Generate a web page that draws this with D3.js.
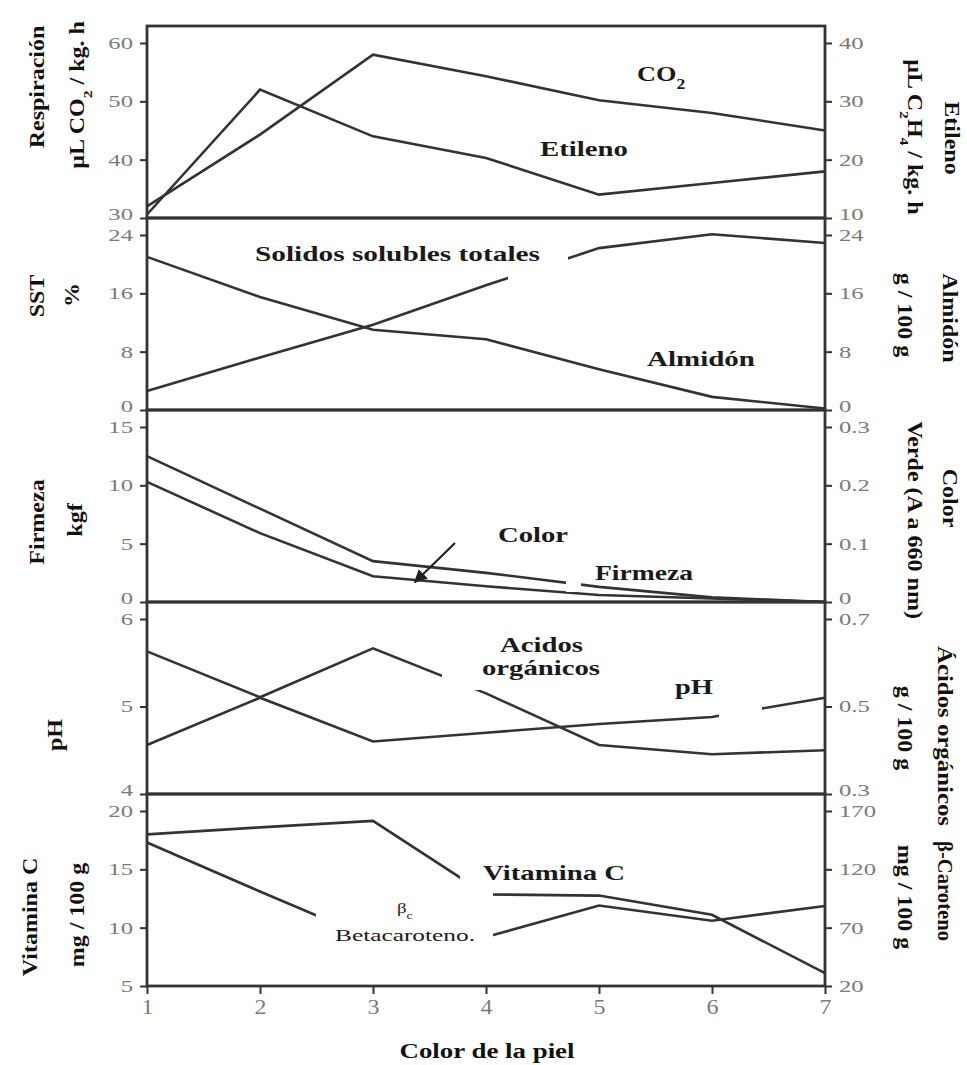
<!DOCTYPE html>
<html>
<head>
<meta charset="utf-8">
<script src="https://cdn.jsdelivr.net/npm/d3@7"></script>
<style>
body { margin: 0; background: #fff; }
text { font-family: "Liberation Serif", "Times New Roman", serif; }
.tick text { fill: #7a7a7a; font-size: 17px; }
.tick line { stroke: #333; stroke-width: 2; }
.title { font-weight: bold; font-size: 20px; fill: #111; }
.note { font-weight: bold; font-size: 21px; fill: #1a1a1a; }
</style>
</head>
<body>
<div id="chart"></div>
<script>
// skin colour stage (x axis)
var stages = [1, 2, 3, 4, 5, 6, 7];

// panel 1: respiration (left) and ethylene (right)
var co2     = [32, 44.3, 58, 54.3, 50.2, 48, 45];
var etileno = [10.6, 32, 24, 20.3, 14, 16, 18];
// panel 2: soluble solids (left) and starch (right)
var sst      = [2.6, 7.2, 11.7, 17.1, 22.2, 24.1, 22.9];
var almidon  = [21, 15.5, 11.0, 9.7, 5.6, 1.8, 0.2];
// panel 3: firmness (left) and green colour (right)
var firmeza = [12.5, 8.0, 3.5, 2.5, 1.3, 0.4, 0];
var color   = [0.206, 0.118, 0.044, 0.027, 0.012, 0.006, 0];
// panel 4: pH (left) and organic acids (right)
var ph      = [4.56, 5.1, 4.6, 4.7, 4.8, 4.88, 5.1];
var acidos  = [0.626, 0.521, 0.633, 0.53, 0.412, 0.391, 0.40];
// panel 5: vitamin C (left) and beta-carotene (right)
var vitC    = [18.0, 18.6, 19.15, 12.85, 12.75, 11.1, 6.1];
var betaCar = [143, 101, 60, 62, 89, 76, 88.6];

// axis domains and ticks
var leftDomains  = [[30, 60], [0, 24], [0, 15], [4, 6], [5, 20]];
var leftTicks    = [[30, 40, 50, 60], [0, 8, 16, 24], [0, 5, 10, 15], [4, 5, 6], [5, 10, 15, 20]];
var rightDomains = [[10, 40], [0, 24], [0, 0.3], [0.3, 0.7], [20, 170]];
var rightTicks   = [[10, 20, 30, 40], [0, 8, 16, 24], [0, 0.1, 0.2, 0.3], [0.3, 0.5, 0.7], [20, 70, 120, 170]];
var leftSeries  = [co2, sst, firmeza, ph, vitC];
var rightSeries = [etileno, almidon, color, acidos, betaCar];

var W = 967, H = 1065;
var left = 147, right = 825, top0 = 26, panelH = 192, pad = 17;

var svg = d3.select("#chart").append("svg")
  .attr("width", W)
  .attr("height", H)
  .style("background", "#fff");

// the scanned figure has wide letters, stretch text a little
function stretch(sel, k) {
  sel.each(function () {
    var len = this.getComputedTextLength();
    d3.select(this).attr("textLength", len * k).attr("lengthAdjust", "spacingAndGlyphs");
  });
}

// lift the lowest tick label of a panel so it clears the next panel's top label
function liftBottom(g, dom) {
  g.selectAll(".tick text")
    .filter(function (d) { return d === dom[0]; })
    .attr("dy", "0.1em");
}

var x = d3.scaleLinear().domain([1, 7]).range([left, right]);

var line = d3.line()
  .x(function (d, i) { return x(stages[i]); })
  .y(function (d) { return d; });

var scalesL = [], scalesR = [];

leftDomains.forEach(function (dom, i) {
  var top = top0 + i * panelH, bottom = top + panelH;
  var yL = d3.scaleLinear().domain(dom).range([bottom, top + pad]);
  var yR = d3.scaleLinear().domain(rightDomains[i]).range([bottom, top + pad]);
  scalesL.push(yL); scalesR.push(yR);

  var gL = svg.append("g")
    .attr("transform", "translate(" + left + ",0)")
    .call(d3.axisLeft(yL).tickValues(leftTicks[i]).tickSize(7).tickPadding(7)
      .tickFormat(function (d) { return String(d); }));
  gL.select(".domain").remove();
  stretch(gL.selectAll(".tick text"), 1.45);
  if (i < 4) liftBottom(gL, dom);

  var gR = svg.append("g")
    .attr("transform", "translate(" + right + ",0)")
    .call(d3.axisRight(yR).tickValues(rightTicks[i]).tickSize(7).tickPadding(7)
      .tickFormat(function (d) { return String(d); }));
  gR.select(".domain").remove();
  stretch(gR.selectAll(".tick text"), 1.45);
  if (i < 4) liftBottom(gR, rightDomains[i]);

  svg.append("path")
    .attr("fill", "none")
    .attr("stroke", "#333")
    .attr("stroke-width", 2.6)
    .attr("d", line(leftSeries[i].map(function (v) { return yL(v); })));

  svg.append("path")
    .attr("fill", "none")
    .attr("stroke", "#333")
    .attr("stroke-width", 2.6)
    .attr("d", line(rightSeries[i].map(function (v) { return yR(v); })));
});

// white patches where the original labels cut the lines
var masks = [[508, 250, 568, 284], [566, 578, 581, 592], [442, 660, 482, 690],
             [719, 700, 762, 720], [460, 868, 493, 899], [316, 900, 493, 948]];
svg.selectAll(".mask")
  .data(masks)
  .enter().append("rect")
  .attr("class", "mask")
  .attr("x", function (d) { return d[0]; })
  .attr("y", function (d) { return d[1]; })
  .attr("width", function (d) { return d[2] - d[0]; })
  .attr("height", function (d) { return d[3] - d[1]; })
  .attr("fill", "#fff");

// panel frames
leftDomains.forEach(function (dom, i) {
  var top = top0 + i * panelH;
  svg.append("rect")
    .attr("x", left).attr("y", top)
    .attr("width", right - left).attr("height", panelH)
    .attr("fill", "none")
    .attr("stroke", "#333")
    .attr("stroke-width", 2.8);
});

// bottom x axis
var gx = svg.append("g")
  .attr("transform", "translate(0," + (top0 + 5 * panelH) + ")")
  .call(d3.axisBottom(x).tickValues(stages).tickSize(8).tickPadding(6)
    .tickFormat(function (d) { return String(d); }));
gx.select(".domain").remove();
gx.selectAll(".tick text").style("font-size", "20px");
stretch(gx.selectAll(".tick text"), 1.2);

svg.append("text")
  .attr("class", "title")
  .attr("x", 487).attr("y", 1058)
  .attr("text-anchor", "middle")
  .attr("textLength", 175)
  .attr("lengthAdjust", "spacingAndGlyphs")
  .text("Color de la piel");

// rotated axis titles
function addTitle(cx, cy, rot, parts, len) {
  var t = svg.append("text")
    .attr("class", "title")
    .attr("transform", "translate(" + cx + "," + cy + ") rotate(" + rot + ")")
    .attr("text-anchor", "middle")
    .attr("dy", "0.35em");
  parts.forEach(function (p) {
    var s = t.append("tspan").text(p[0]);
    if (p[1]) s.style("font-size", "13px").attr("baseline-shift", "sub");
  });
  if (len) t.attr("textLength", len).attr("lengthAdjust", "spacingAndGlyphs");
  else stretch(t, 1.2);
}

addTitle(37, 87, -90, [["Respiración"]]);
addTitle(77, 95, -90, [["µL CO"], ["2", 1], [" / kg. h"]]);
addTitle(37, 296, -90, [["SST"]]);
addTitle(72, 295, -90, [["%"]]);
addTitle(37, 522, -90, [["Firmeza"]]);
addTitle(75, 520, -90, [["kgf"]]);
addTitle(55, 735, -90, [["pH"]]);
addTitle(30, 917, -90, [["Vitamina C"]]);
addTitle(77, 915, -90, [["mg / 100 g"]]);

addTitle(952, 138, 90, [["Etileno"]]);
addTitle(915, 137, 90, [["µL C"], ["2", 1], ["H"], ["4", 1], [" / kg. h"]]);
addTitle(950, 318, 90, [["Almidón"]]);
addTitle(905, 315, 90, [["g / 100 g"]]);
addTitle(950, 498, 90, [["Color"]]);
addTitle(915, 520, 90, [["Verde (A a 660 nm)"]]);
addTitle(945, 736, 90, [["Ácidos orgánicos"]], 180);
addTitle(905, 728, 90, [["g / 100 g"]]);
addTitle(945, 891, 90, [["β-Caroteno"]], 100);
addTitle(905, 897, 90, [["mg / 100 g"]]);

// labels inside the panels
var notes = [
  {parts: [["CO"], ["2", 1]], x: 637, y: 81},
  {parts: [["Etileno"]], x: 540, y: 156, w: 88},
  {parts: [["Solidos solubles totales"]], x: 255, y: 261, w: 285},
  {parts: [["Almidón"]], x: 647, y: 366, w: 108},
  {parts: [["Color"]], x: 498, y: 542, w: 70},
  {parts: [["Firmeza"]], x: 595, y: 580, w: 98},
  {parts: [["Acidos"]], x: 500, y: 652, w: 83},
  {parts: [["orgánicos"]], x: 482, y: 675, w: 118},
  {parts: [["pH"]], x: 675, y: 694, w: 38},
  {parts: [["Vitamina C"]], x: 483, y: 880, w: 142},
  {parts: [["β"], ["c", 1]], x: 397, y: 913, size: 15, normal: 1},
  {parts: [["Betacaroteno."]], x: 335, y: 941, w: 140, size: 16, normal: 1}
];

notes.forEach(function (n) {
  var t = svg.append("text")
    .attr("class", "note")
    .attr("x", n.x).attr("y", n.y);
  if (n.size) t.style("font-size", n.size + "px");
  if (n.normal) t.style("font-weight", "normal");
  n.parts.forEach(function (p) {
    var s = t.append("tspan").text(p[0]);
    if (p[1]) s.style("font-size", n.size ? "11px" : "14px").attr("baseline-shift", "sub");
  });
  if (n.w) t.attr("textLength", n.w).attr("lengthAdjust", "spacingAndGlyphs");
  else stretch(t, 1.25);
});

// arrow from the Color label to its line
svg.append("defs").append("marker")
  .attr("id", "head")
  .attr("viewBox", "0 0 10 10")
  .attr("refX", 9).attr("refY", 5)
  .attr("markerWidth", 6).attr("markerHeight", 6)
  .attr("orient", "auto")
  .append("path")
  .attr("d", "M0,0 L10,5 L0,10 z")
  .attr("fill", "#222");

svg.append("line")
  .attr("x1", 455).attr("y1", 543)
  .attr("x2", x(3.37)).attr("y2", scalesR[2](0.034))
  .attr("stroke", "#222")
  .attr("stroke-width", 2.2)
  .attr("marker-end", "url(#head)");
</script>
</body>
</html>
